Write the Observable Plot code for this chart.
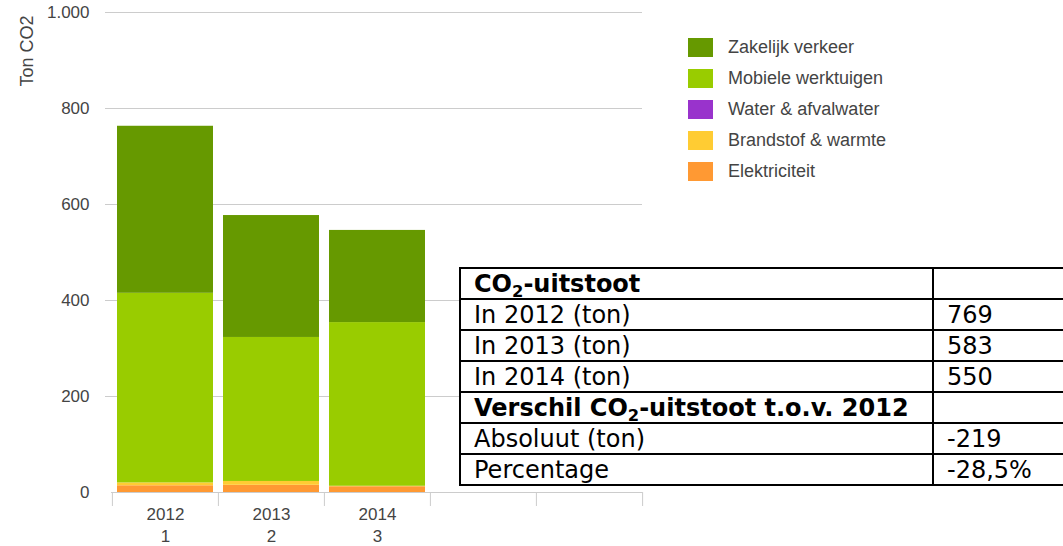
<!DOCTYPE html>
<html>
<head>
<meta charset="utf-8">
<script src="https://cdn.jsdelivr.net/npm/d3@7"></script>
<script src="https://cdn.jsdelivr.net/npm/@observablehq/plot@0.6"></script>
<style>
  html, body { margin: 0; padding: 0; background: #fff; }
  #wrap { position: relative; width: 1063px; height: 546px; overflow: hidden; }
  #chart { position: absolute; left: 0; top: 0; }
  #legend { position: absolute; left: 688px; top: 38px; font-family: "Liberation Sans", Arial, sans-serif; font-size: 18px; color: #444; }
  #legend .row { display: flex; align-items: center; height: 19px; margin-bottom: 12px; }
  #legend .sw { width: 25px; height: 19px; margin-right: 15px; }
  #tbl { position: absolute; left: 459px; top: 267px; border-collapse: collapse; font-family: "DejaVu Sans", Verdana, sans-serif; font-size: 24px; color: #000; background: #fff; width: 720px; table-layout: fixed; }
  #tbl td { border: 2px solid #000; height: 29px; padding: 0 0 0 13px; line-height: 28px; white-space: nowrap; overflow: hidden; }
  #tbl tr.b td { font-weight: bold; }
  #tbl sub { font-size: 0.68em; vertical-align: -0.28em; line-height: 0; }
</style>
</head>
<body>
<div id="wrap">
  <div id="chart"></div>
  <div id="legend"></div>
  <table id="tbl"><colgroup><col style="width:473px"><col></colgroup><tbody></tbody></table>
</div>
<script>
// ---- data ----
const years = ["2012", "2013", "2014"];
const yearIndex = ["1", "2", "3"];
const extraBands = ["", " "];
const series = ["Zakelijk verkeer", "Mobiele werktuigen", "Water & afvalwater", "Brandstof & warmte", "Elektriciteit"];
const seriesColors = ["#669900", "#99cc00", "#9933cc", "#ffcc33", "#ff9933"];
const zakelijk = [348, 254, 192];
const mobiele = [395, 300, 341];
const water = [0, 0, 0];
const brandstof = [6, 8, 1];
const elektriciteit = [14, 15, 12];
const yTicks = [0, 200, 400, 600, 800, 1000];
const yLabel = "Ton CO2";

const tableLabels = ["CO<sub>2</sub>-uitstoot", "In 2012 (ton)", "In 2013 (ton)", "In 2014 (ton)", "Verschil CO<sub>2</sub>-uitstoot t.o.v. 2012", "Absoluut (ton)", "Percentage"];
const tableValues = ["", "769", "583", "550", "", "-219", "-28,5%"];
const tableBold = [true, false, false, false, true, false, false];

// ---- build ----
const xDomain = years.map((y, i) => y + "\n" + yearIndex[i]).concat(extraBands);
const stackBottomUp = [
  ["Elektriciteit", elektriciteit],
  ["Brandstof & warmte", brandstof],
  ["Water & afvalwater", water],
  ["Mobiele werktuigen", mobiele],
  ["Zakelijk verkeer", zakelijk]
];
const data = [];
for (const [name, vals] of stackBottomUp) {
  vals.forEach((v, i) => data.push({cat: xDomain[i], series: name, value: v}));
}

const W = 1063, H = 546, mL = 111, mR = 421, mT = 12, mB = 54;
const bw = (W - mL - mR) / xDomain.length;
const nl = d3.formatLocale({decimal: ",", thousands: ".", grouping: [3], currency: ["€", ""]});
const fmt = nl.format(",d");

const plot = Plot.plot({
  width: W, height: H,
  marginLeft: mL, marginRight: mR, marginTop: mT, marginBottom: mB,
  style: {fontFamily: "'Liberation Sans', Arial, sans-serif", fontSize: "17px", color: "#444", background: "transparent"},
  x: {domain: xDomain, padding: 0},
  y: {domain: [0, 1000]},
  color: {domain: series, range: seriesColors},
  marks: [
    Plot.ruleY(yTicks.filter(d => d > 0), {stroke: "#cccccc", strokeWidth: 1, insetLeft: -6}),
    Plot.barY(data, {x: "cat", y: "value", fill: "series", insetLeft: 5, insetRight: 5}),
    Plot.ruleY([0], {stroke: "#cccccc"}),
    Plot.ruleX(xDomain, {x: d => d, y1: 0, y2: 0, insetBottom: -14, dx: -bw / 2, stroke: "#cccccc"}),
    Plot.ruleX(xDomain.slice(-1), {x: d => d, y1: 0, y2: 0, insetBottom: -14, dx: bw / 2, stroke: "#cccccc"}),
    Plot.axisY({ticks: yTicks, tickSize: 0, tickPadding: 22, tickFormat: fmt, label: null, fill: "#444"}),
    Plot.axisX({tickSize: 0, tickPadding: 12, lineHeight: 1.28, label: null, fill: "#444"}),
    Plot.text([yLabel], {frameAnchor: "top-left", rotate: -90, textAnchor: "end", dx: -91, dy: 3, fontSize: 18, fill: "#444"})
  ]
});
document.getElementById("chart").appendChild(plot);

// legend
const legend = document.getElementById("legend");
series.forEach((s, i) => {
  const row = document.createElement("div");
  row.className = "row";
  const sw = document.createElement("div");
  sw.className = "sw";
  sw.style.background = seriesColors[i];
  const t = document.createElement("span");
  t.textContent = s;
  row.appendChild(sw); row.appendChild(t);
  legend.appendChild(row);
});

// table
const tbody = document.querySelector("#tbl tbody");
tableLabels.forEach((lab, i) => {
  const tr = document.createElement("tr");
  if (tableBold[i]) tr.className = "b";
  const td1 = document.createElement("td");
  td1.innerHTML = lab;
  const td2 = document.createElement("td");
  td2.textContent = tableValues[i];
  tr.appendChild(td1); tr.appendChild(td2);
  tbody.appendChild(tr);
});
</script>
</body>
</html>
